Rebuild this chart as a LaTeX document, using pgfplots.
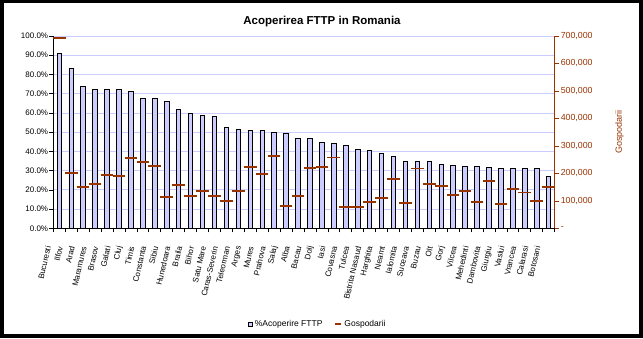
\documentclass[border=0pt]{standalone}
\usepackage{pgfplots}
\usepackage{pgfplotstable}
\pgfplotsset{compat=1.18}
\usepackage{fontspec}
\setmainfont{Liberation Sans}
\definecolor{lav}{RGB}{204,204,255}
\definecolor{brn}{RGB}{153,51,0}

\pgfplotstableread{
x pct hh
1 91.0 692000
2 83.2 202000
3 73.8 150000
4 72.3 162000
5 72.3 195000
6 72.3 190000
7 71.2 257000
8 67.6 240000
9 67.6 228000
10 66.0 114000
11 62.0 158000
12 59.8 118000
13 58.8 136000
14 58.2 118000
15 52.5 99000
16 51.5 136000
17 51.0 223000
18 51.0 197000
19 49.9 263000
20 49.4 81000
21 46.8 118000
22 46.8 220000
23 44.7 223000
24 44.2 258000
25 43.2 78000
26 41.1 78000
27 40.6 97000
28 39.0 110000
29 37.4 179000
30 34.8 93000
31 34.8 218000
32 34.8 162000
33 33.3 153000
34 32.8 121000
35 32.2 137000
36 32.2 97000
37 31.7 173000
38 31.2 88000
39 31.2 143000
40 31.2 130000
41 31.2 100000
42 27.0 151000
}\data

\begin{document}
\begin{tikzpicture}[x=1pt,y=1pt]
\fill[black] (0,0) rectangle (643,338);
\fill[white] (4,3.7) rectangle (639,334.7);
\path[use as bounding box] (0,0) rectangle (643,338);
\node[font=\bfseries\fontsize{11.5}{13}\selectfont] at (322,316.5) {Acoperirea FTTP in Romania};

\begin{axis}[
  at={(53.3pt,109.7pt)}, anchor=south west,
  scale only axis, width=501.3pt, height=192.3pt,
  xmin=0.5, xmax=42.5, ymin=0, ymax=100,
  axis x line*=bottom, axis y line*=left,
  axis line style={black, line width=0.8pt},
  tick align=outside, major tick length=4pt,
  tick style={black, line width=0.6pt},
  ymajorgrids, grid style={lav, line width=0.8pt},
  ytick={0,10,20,30,40,50,60,70,80,90,100},
  yticklabels={0.0\%,10.0\%,20.0\%,30.0\%,40.0\%,50.0\%,60.0\%,70.0\%,80.0\%,90.0\%,100.0\%},
  yticklabel style={font=\fontsize{8}{9}\selectfont, inner sep=1pt},
  xtick={0.5,1.5,...,41.5},
  xticklabels={Bucuresti,Ilfov,Arad,Maramures,Brasov,Galati,Cluj,Timis,Constanta,Sibiu,Hunedoara,Braila,Bihor,Satu Mare,Caras-Severin,Teleorman,Arges,Mures,Prahova,Salaj,Alba,Bacau,Dolj,Iasi,Covasna,Tulcea,Bistrita Nasaud,Harghita,Neamt,Ialomita,Suceava,Buzau,Olt,Gorj,Vilcea,Mehedinti,Dambovita,Giurgiu,Vaslui,Vrancea,Calarasi,Botosani},
  extra x ticks={42.5}, extra x tick labels={},
  xticklabel style={font=\fontsize{8}{9}\selectfont, inner sep=0pt, xshift=-5pt, yshift=-14pt, rotate=77, anchor=east},
  /pgf/number format/assume math mode=true,
]
\addplot[ybar, bar width=4.5pt, fill=lav, draw=black, line width=0.8pt] table[x=x,y=pct]{\data};
\end{axis}

\begin{axis}[
  at={(53.3pt,109.7pt)}, anchor=south west,
  scale only axis, width=501.3pt, height=192.3pt,
  xmin=0.5, xmax=42.5, ymin=0, ymax=700000,
  axis x line=none, axis y line*=right,
  clip=false,
  y axis line style={brn, line width=0.8pt},
  tick align=outside, major tick length=4pt,
  ytick style={brn, line width=0.6pt},
  scaled y ticks=false,
  ytick={0,100000,200000,300000,400000,500000,600000,700000},
  yticklabels={{-},{100,000},{200,000},{300,000},{400,000},{500,000},{600,000},{700,000}},
  yticklabel style={brn, font=\fontsize{8.8}{10}\selectfont, inner sep=2pt},
  ylabel={Gospodarii},
  ylabel style={brn, font=\fontsize{9}{10}\selectfont, at={(axis description cs:1.1296,0.5)}, anchor=center},
  legend columns=2,
  legend style={at={(axis description cs:0.528,-0.4977)}, anchor=center, draw=none, fill=none,
    font=\fontsize{8.5}{10}\selectfont,
    /tikz/every even column/.append style={column sep=10pt}},
  /pgf/number format/assume math mode=true,
]
\addlegendimage{legend image code/.code={\draw[fill=lav,draw=black,line width=0.5pt] (0pt,-2pt) rectangle (4pt,2pt);}}
\addlegendentry{\%Acoperire FTTP}
\addplot[only marks, mark=-, mark size=6.3pt, brn, line width=1.8pt,
  legend image code/.code={\draw[brn,line width=2pt] (0pt,0pt) -- (6pt,0pt);}] table[x=x,y=hh]{\data};
\addlegendentry{Gospodarii}
\end{axis}
\end{tikzpicture}
\end{document}
